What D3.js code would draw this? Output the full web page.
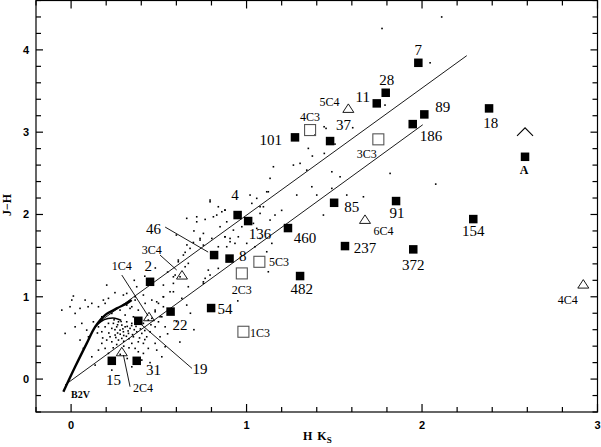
<!DOCTYPE html>
<html><head><meta charset="utf-8">
<script src="https://cdn.jsdelivr.net/npm/d3@7/dist/d3.min.js"></script>
<style>body{margin:0;background:#fff}svg{display:block}</style>
</head><body><svg id="c" width="601" height="447"></svg>
<script>
// ---- data (H-Ks, J-H) ----
const xTickLabels = ["0","1","2","3"];
const yTickLabels = ["0","1","2","3","4"];

const filledStars = [
  ["7",1.979,3.843],["28",1.793,3.479],["11",1.742,3.350],["89",2.013,3.216],
  ["186",1.947,3.098],["18",2.382,3.289],["A",2.587,2.701],["101",1.276,2.937],
  ["37",1.476,2.892],["4",0.949,1.993],["136",1.009,1.920],["460",1.236,1.835],
  ["85",1.499,2.142],["91",1.852,2.163],["154",2.292,1.944],["237",1.561,1.616],
  ["372",1.950,1.576],["482",1.305,1.252],["46",0.815,1.507],["8",0.903,1.464],
  ["54",0.798,0.863],["2",0.450,1.182],["22",0.567,0.820],["19",0.383,0.708],
  ["15",0.232,0.222],["31",0.374,0.222]
];
const openSquares = [
  ["4C3",1.362,3.026],["3C3",1.751,2.913],["5C3",1.073,1.425],["2C3",0.973,1.284],["1C3",0.982,0.575]
];
const triangles = [
  ["5C4",1.580,3.289],["6C4",1.675,1.940],["4C4",2.919,1.154],["2C4",0.289,0.332],
  ["1C4",0.444,0.757],["3C4",0.632,1.264]
];
const carets = [[2.587,3.005]];

const bigLabels = [
  ["7",1.979,4.0],["28",1.799,3.642],["11",1.662,3.430],["37",1.552,3.086],
  ["101",1.138,2.912],["89",2.118,3.309],["186",2.051,2.953],["18",2.391,3.114],
  ["4",0.934,2.236],["136",1.077,1.762],["460",1.333,1.717],["85",1.599,2.094],
  ["91",1.858,2.017],["237",1.675,1.600],["8",0.978,1.498],["482",1.315,1.102],
  ["54",0.877,0.859],["154",2.292,1.798],["372",1.950,1.385],["15",0.241,-0.004],
  ["31",0.469,0.109],["22",0.621,0.656],["19",0.735,0.122],["2",0.440,1.373],["46",0.469,1.831]
];
const smallLabels = [
  ["5C4",1.472,3.369],["4C3",1.362,3.187],["3C3",1.685,2.742],["6C4",1.780,1.802],
  ["5C3",1.185,1.425],["2C3",0.973,1.090],["1C3",1.077,0.567],["4C4",2.830,0.968],
  ["2C4",0.410,-0.109],["1C4",0.289,1.373],["3C4",0.460,1.576]
];

const upperReddening = [[0.17,0.71],[2.255,3.93]];
const lowerReddening = [[-0.034,-0.07],[2.004,3.09]];
const giantBranch = [[-0.044,-0.154],[0.023,0.149],[0.089,0.434],[0.137,0.635],[0.194,0.778],[0.26,0.859],[0.317,0.92],[0.345,0.96]];
const dwarfBranch = [[0.137,0.635],[0.17,0.70],[0.21,0.735],[0.25,0.74],[0.285,0.715]];
const pointers = [
  [[0.536,1.847],[0.781,1.543]],
  [[0.507,1.507],[0.602,1.325]],
  [[0.289,1.264],[0.439,0.766]],
  [[0.399,0.665],[0.689,0.130]],
  [[0.298,0.292],[0.336,-0.093]]
];

const field = [
 [-0.006,0.879],[0.023,0.798],[0.051,0.859],[0.080,0.960],[0.118,0.920],[0.194,0.920],[0.213,0.981],
 [0.298,1.021],[0.317,0.899],[0.365,1.000],[0.061,0.677],[0.089,0.595],[0.099,0.514],[0.051,0.474],
 [0.070,0.373],[0.127,0.696],[0.156,0.635],[0.175,0.575],[0.194,0.635],[0.213,0.677],[0.232,0.616],
 [0.241,0.677],[0.260,0.635],[0.270,0.696],[0.289,0.656],[0.279,0.595],[0.298,0.575],[0.308,0.635],
 [0.317,0.696],[0.327,0.555],[0.336,0.616],[0.251,0.535],[0.222,0.514],[0.203,0.474],[0.232,0.453],
 [0.270,0.474],[0.289,0.494],[0.175,0.434],[0.156,0.352],[0.194,0.373],[0.213,0.312],[0.118,0.271],
 [0.137,0.170],[0.355,0.514],[0.374,0.575],[0.346,0.434],[0.383,0.453],[0.412,0.434],[0.431,0.514],
 [0.403,0.555],[0.450,0.575],[0.479,0.635],[0.498,0.696],[0.517,0.757],[0.383,0.332],[0.412,0.312],
 [0.365,0.373],[0.440,0.373],[0.479,0.434],[0.507,0.514],[0.175,0.757],[0.232,0.798],[0.279,0.838],
 [0.336,0.859],[0.383,0.838],[0.308,0.778],[0.355,0.757],[0.156,0.879],[0.023,0.635],[-0.034,0.555],
 [0.412,0.677],[0.440,0.717],[0.346,0.677],[0.479,0.838],[0.498,0.920],[0.526,1.000],[0.422,0.920],
 [0.460,0.960],[0.232,0.109],[0.346,0.149],[0.403,0.231],[0.517,0.271],[0.488,0.352],[0.536,0.393],
 [-0.053,0.838],[0.004,0.960],[0.265,0.560],[0.300,0.530],[0.250,0.600],[0.285,0.700],[0.320,0.640],
 [0.360,0.600],[0.215,0.560],[0.245,0.720],[0.300,0.460],[0.330,0.490],[0.180,0.500],[0.150,0.560],
 [0.265,0.660],[0.295,0.610],[0.325,0.585],[0.345,0.650],[0.370,0.640],[0.395,0.610],[0.420,0.590],
 [0.255,0.505],[0.280,0.545],[0.315,0.520],[0.350,0.540],[0.390,0.500],[0.420,0.480],[0.260,0.420],
 [0.300,0.400],[0.330,0.380],[0.240,0.380],[0.280,0.300],[0.320,0.250],[0.455,0.660],[0.400,0.720],
 [0.013,1.009],[0.203,1.142],[0.097,0.879],[0.184,0.960],[0.317,1.041],[0.374,1.122],[0.526,1.142],
 [0.583,1.061],[0.668,1.122],[0.678,1.588],[0.650,1.540],[0.611,1.446],[0.583,1.243],[0.650,1.365],
 [0.526,0.879],[0.365,0.960],[0.412,1.021],[0.346,0.879],[0.716,1.972],[0.697,1.660],
 [0.735,1.689],[0.754,1.628],[0.839,1.608],[0.877,1.729],[0.906,1.669],[1.001,1.649],[0.640,1.507],
 [0.611,1.425],[0.668,1.406],[0.593,1.264],[0.621,1.243],[0.583,1.163],[0.764,1.224],[0.782,1.324],
 [0.564,1.061],[0.526,1.000],[0.631,0.981],[0.488,0.939],[0.659,0.899],[0.479,0.818],[0.507,0.757],
 [0.536,0.635],[0.460,0.738],[0.754,1.182],
 [1.134,2.439],[1.115,2.276],[0.792,2.154],[1.020,2.236],[1.058,2.196],[1.030,2.135],[1.077,2.094],
 [0.877,2.053],[0.859,2.033],[0.830,1.993],[0.764,1.940],[0.716,1.911],[0.659,1.953],[0.811,1.972],
 [0.887,1.911],[1.096,2.094],[1.077,2.013],[1.162,1.993],[1.134,1.932],[1.039,1.892],[1.058,1.831],
 [0.925,1.810],[0.973,1.851],[0.754,1.770],[0.877,1.729],[0.906,1.709],[0.953,1.729],[0.735,1.709],
 [1.267,2.600],[1.305,2.621],[1.343,2.539],[1.486,2.519],[1.533,2.458],[1.372,2.337],[1.286,2.236],
 [1.153,2.580],[1.124,2.276],[0.792,2.175],[0.839,2.094],[0.877,2.053],[0.849,1.851],[0.802,1.709],
 [0.934,1.649],[0.887,1.608],[1.048,1.608],[1.077,1.709],[1.115,1.547],[1.144,1.649],[0.792,1.264],
 [0.839,1.345],[0.754,1.163],[1.124,1.304],[1.438,1.993],[1.486,2.317],[1.571,2.236],[1.666,2.215],
 [1.818,2.499],[1.400,2.236],
 [1.390,2.965],[1.442,3.066],[1.453,3.046],[1.605,3.054],[1.352,2.803],[1.375,2.710],[1.443,2.742],
 [1.504,2.855],[1.789,3.329],[1.772,4.26],[2.112,4.40],[2.046,3.843],[2.078,2.369],
 [0.60,1.75],[0.66,1.63],[0.70,1.80],[0.55,1.30],[0.48,1.35],[0.42,1.25],[0.36,1.20],[0.25,1.05],
 [0.60,0.70],[0.62,0.45],[0.70,0.60],[0.45,0.20],[0.55,0.55],[0.68,0.80],[0.95,0.95],[1.20,2.05]
];

// ---- scales ----
const svg = d3.select("#c");
const x = d3.scaleLinear().domain([-0.2, 3.0]).range([36, 597.5]);
const y = d3.scaleLinear().domain([-0.4, 4.6]).range([412, 0.5]);
const serif = "'Liberation Serif','Times New Roman',serif";
const sans = "'Liberation Sans',Arial,sans-serif";

// ---- frame & ticks ----
const [x0, x1] = x.range(), [y0, y1] = y.range();
svg.append("rect").attr("x", x0).attr("y", y1).attr("width", x1 - x0).attr("height", y0 - y1)
  .attr("fill", "none").attr("stroke", "#000").attr("stroke-width", 1.2);

const xMinor = d3.range(0, 17).map(i => -0.2 + i * 0.2);
const yMinor = d3.range(0, 26).map(i => -0.4 + i * 0.2);
const isMajor = v => Math.abs(v - Math.round(v)) < 1e-6;
const tk = svg.append("g").attr("stroke", "#000").attr("stroke-width", 1.2);
xMinor.forEach(v => {
  const L = isMajor(v) ? 8 : 5, px = x(v);
  tk.append("line").attr("x1", px).attr("x2", px).attr("y1", y0).attr("y2", y0 - L);
  tk.append("line").attr("x1", px).attr("x2", px).attr("y1", y1).attr("y2", y1 + L);
});
yMinor.forEach(v => {
  const L = isMajor(v) ? 7 : 5, py = y(v);
  tk.append("line").attr("x1", x0).attr("x2", x0 + L).attr("y1", py).attr("y2", py);
  tk.append("line").attr("x1", x1).attr("x2", x1 - L).attr("y1", py).attr("y2", py);
});
xTickLabels.forEach(t => {
  svg.append("text").attr("x", x(+t)).attr("y", 429).attr("text-anchor", "middle")
    .attr("font-family", sans).attr("font-weight", "bold").attr("font-size", 11).text(t);
});
yTickLabels.forEach(t => {
  svg.append("text").attr("x", 29).attr("y", y(+t) + 4).attr("text-anchor", "end")
    .attr("font-family", sans).attr("font-weight", "bold").attr("font-size", 11).text(t);
});

// axis titles
const xt = svg.append("text").attr("x", 303).attr("y", 440)
  .attr("font-family", serif).attr("font-weight", "bold").attr("font-size", 12);
xt.append("tspan").text("H");
xt.append("tspan").attr("dx", 5).text("K");
xt.append("tspan").attr("font-size", 9).attr("dy", 3).text("S");
svg.append("text").attr("transform", "translate(11,205) rotate(-90)").attr("text-anchor", "middle")
  .attr("font-family", serif).attr("font-weight", "bold").attr("font-size", 12).text("J\u2212H");

// ---- curves & lines ----
const line = d3.line().x(d => x(d[0])).y(d => y(d[1]));
[upperReddening, lowerReddening].forEach(l =>
  svg.append("path").attr("d", line(l)).attr("fill", "none").attr("stroke", "#000").attr("stroke-width", 0.9));
pointers.forEach(l =>
  svg.append("path").attr("d", line(l)).attr("fill", "none").attr("stroke", "#000").attr("stroke-width", 0.9));
svg.append("path").attr("d", d3.line().curve(d3.curveCatmullRom).x(d => x(d[0])).y(d => y(d[1]))(giantBranch))
  .attr("fill", "none").attr("stroke", "#000").attr("stroke-width", 2.4);
svg.append("path").attr("d", d3.line().curve(d3.curveCatmullRom).x(d => x(d[0])).y(d => y(d[1]))(dwarfBranch))
  .attr("fill", "none").attr("stroke", "#000").attr("stroke-width", 1.6);

// ---- field stars ----
svg.append("g").selectAll("rect").data(field).join("rect")
  .attr("x", d => x(d[0]) - 0.8).attr("y", d => y(d[1]) - 0.8)
  .attr("width", 1.6).attr("height", 1.6).attr("fill", "#000");

// ---- markers ----
const fs = 8.5;
svg.append("g").selectAll("rect").data(filledStars).join("rect")
  .attr("x", d => x(d[1]) - fs / 2).attr("y", d => y(d[2]) - fs / 2)
  .attr("width", fs).attr("height", fs).attr("fill", "#000");
const os = 11;
svg.append("g").selectAll("rect").data(openSquares).join("rect")
  .attr("x", d => x(d[1]) - os / 2).attr("y", d => y(d[2]) - os / 2)
  .attr("width", os).attr("height", os).attr("fill", "none").attr("stroke", "#555").attr("stroke-width", 1.1);
svg.append("g").selectAll("path").data(triangles).join("path")
  .attr("d", d => { const cx = x(d[1]), cy = y(d[2]);
    return `M${cx - 5.5},${cy + 4}L${cx},${cy - 4.5}L${cx + 5.5},${cy + 4}Z`; })
  .attr("fill", "none").attr("stroke", "#000").attr("stroke-width", 0.9);
svg.append("g").selectAll("path").data(carets).join("path")
  .attr("d", d => { const cx = x(d[0]), cy = y(d[1]);
    return `M${cx - 8},${cy + 4}L${cx},${cy - 4}L${cx + 8},${cy + 4}`; })
  .attr("fill", "none").attr("stroke", "#000").attr("stroke-width", 1.1);

// ---- labels ----
svg.append("g").selectAll("text").data(bigLabels).join("text")
  .attr("x", d => x(d[1])).attr("y", d => y(d[2])).attr("dy", "0.35em").attr("text-anchor", "middle")
  .attr("font-family", serif).attr("font-size", 15).text(d => d[0]);
svg.append("g").selectAll("text").data(smallLabels).join("text")
  .attr("x", d => x(d[1])).attr("y", d => y(d[2])).attr("dy", "0.35em").attr("text-anchor", "middle")
  .attr("font-family", serif).attr("font-size", 12).text(d => d[0]);
svg.append("text").attr("x", x(2.581)).attr("y", y(2.54)).attr("dy", "0.35em").attr("text-anchor", "middle")
  .attr("font-family", serif).attr("font-weight", "bold").attr("font-size", 12).text("A");
svg.append("text").attr("x", x(0.0)).attr("y", y(-0.235)).attr("text-anchor", "start")
  .attr("font-family", serif).attr("font-weight", "bold").attr("font-size", 10).text("B2V");
</script></body></html>
